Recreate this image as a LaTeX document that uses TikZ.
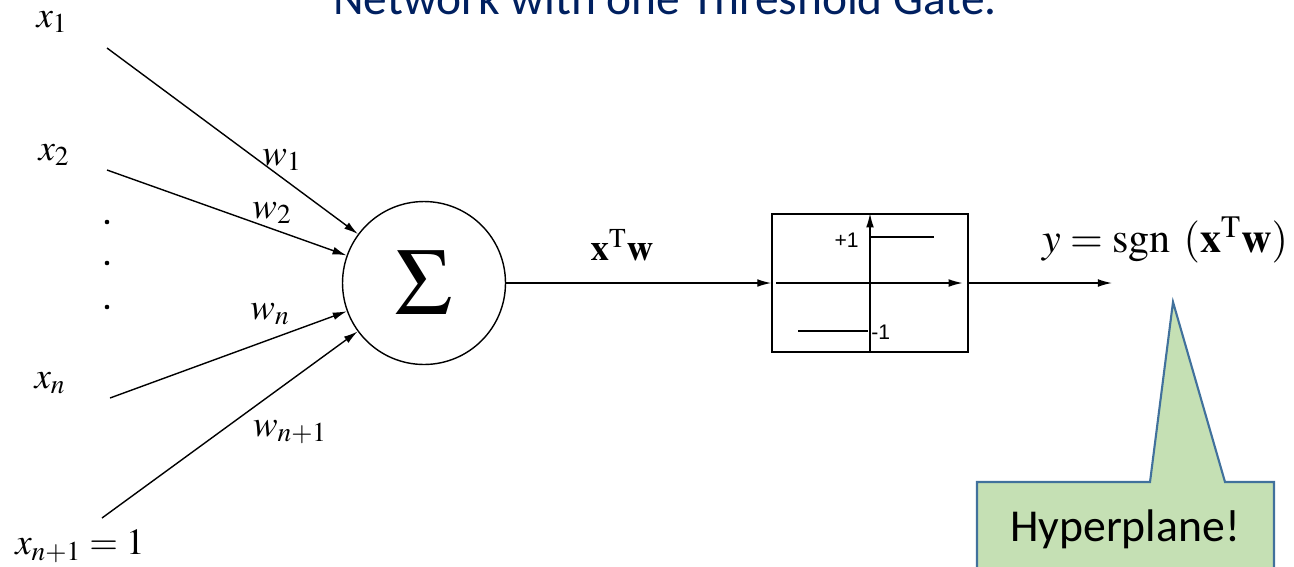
\documentclass[tikz,border=0pt]{standalone}
\usepackage{mathptmx}
\usepackage[no-math]{fontspec}
\newfontfamily\slidefont{Carlito}
\newfontfamily\axisfont{Liberation Sans}
\usetikzlibrary{positioning,arrows.meta}
\definecolor{titleblue}{RGB}{0,32,96}
\definecolor{calloutfill}{RGB}{197,224,180}
\definecolor{calloutline}{RGB}{65,113,156}

\begin{document}
\begin{tikzpicture}[x=0.02cm, y=-0.02cm, >={Latex[length=8pt,width=4.4pt]},
  lbl/.style={font=\fontsize{21}{24}\selectfont, inner sep=0pt},
  wire/.style={->, line width=0.8pt},
  axis/.style={line width=0.8pt}]
  % Frame of the slide, in pixels, y running downwards
  \path[use as bounding box, clip] (0,0) rectangle (1294,566);
  % Title, cut off by the top edge
  \node[font=\slidefont\fontsize{27}{32}\selectfont, text=titleblue, anchor=base] (title) at (665,14) {Network with one Threshold Gate.};
  % Summing unit and threshold box
  \node[circle, draw, line width=0.8pt, minimum size=3.26cm, inner sep=0pt,
    font=\fontsize{54}{58}\selectfont] (sum) at (424,283) {$\Sigma$};
  \node[draw, line width=0.8pt, minimum width=3.92cm, minimum height=2.76cm, inner sep=0pt] (gate) at (870,283) {};
  % Inputs
  \node[lbl] (x1) at (52,22) {$x_1$};
  \node[lbl] (x2) at (54,155) {$x_2$};
  \node[lbl] (xn) at (50,383) {$x_n$};
  \node[lbl] (xb) at (80,546) {$x_{n+1} = 1$};
  \foreach \y in {222,263,307} {
    \fill (107,\y) circle (1.3pt);
  }
  \coordinate (s1) at (107,48);
  \coordinate (s2) at (107,170);
  \coordinate (sn) at (110,398);
  \coordinate (sb) at (102,518);
  \draw[wire] (s1) -- (sum);
  \draw[wire] (s2) -- (sum);
  \draw[wire] (sn) -- (sum);
  \draw[wire] (sb) -- (sum);
  % Weights
  \node[lbl] (w1) at (282,160) {$w_1$};
  \node[lbl] (w2) at (272,213) {$w_2$};
  \node[lbl] (wn) at (270,314) {$w_n$};
  \node[lbl] (wb) at (290,432) {$w_{n+1}$};
  % Sum to gate, gate to output
  \draw[wire] (sum.east) -- (gate.west);
  \node[lbl] (xtw) at (622,245) {$\mathbf{x}^{\mathrm{T}}\mathbf{w}$};
  \coordinate (out) at (1112,283);
  \draw[wire] (gate.east) -- (out);
  \node[lbl, font=\fontsize{24}{28}\selectfont] (yout) at (1165,240) {$y = \mathrm{sgn}\ (\mathbf{x}^{\mathrm{T}}\mathbf{w})$};
  % Step function inside the box
  \draw[wire] (gate.south) -- (gate.north);
  \draw[wire] ([xshift=0.1cm]gate.west) -- ([xshift=-0.12cm]gate.east);
  \draw[axis] (870,237) -- (934,237);
  \draw[axis] (798,331) -- (868,331);
  \node[font=\axisfont\fontsize{12}{14}\selectfont, inner sep=0pt, anchor=east] (plus) at (859,240) {+1};
  \node[font=\axisfont\fontsize{12}{14}\selectfont, inner sep=0pt, anchor=west] (minus) at (871,332) {-1};
  % Callout
  \draw[fill=calloutfill, draw=calloutline, line width=1.2pt]
    (977,580) -- (977,482) -- (1150,482) -- (1173,302) -- (1225,482) -- (1274,482) -- (1274,580);
  \node[font=\slidefont\fontsize{26}{30}\selectfont, anchor=base] (hyper) at (1125,541) {Hyperplane!};
\end{tikzpicture}
\end{document}
